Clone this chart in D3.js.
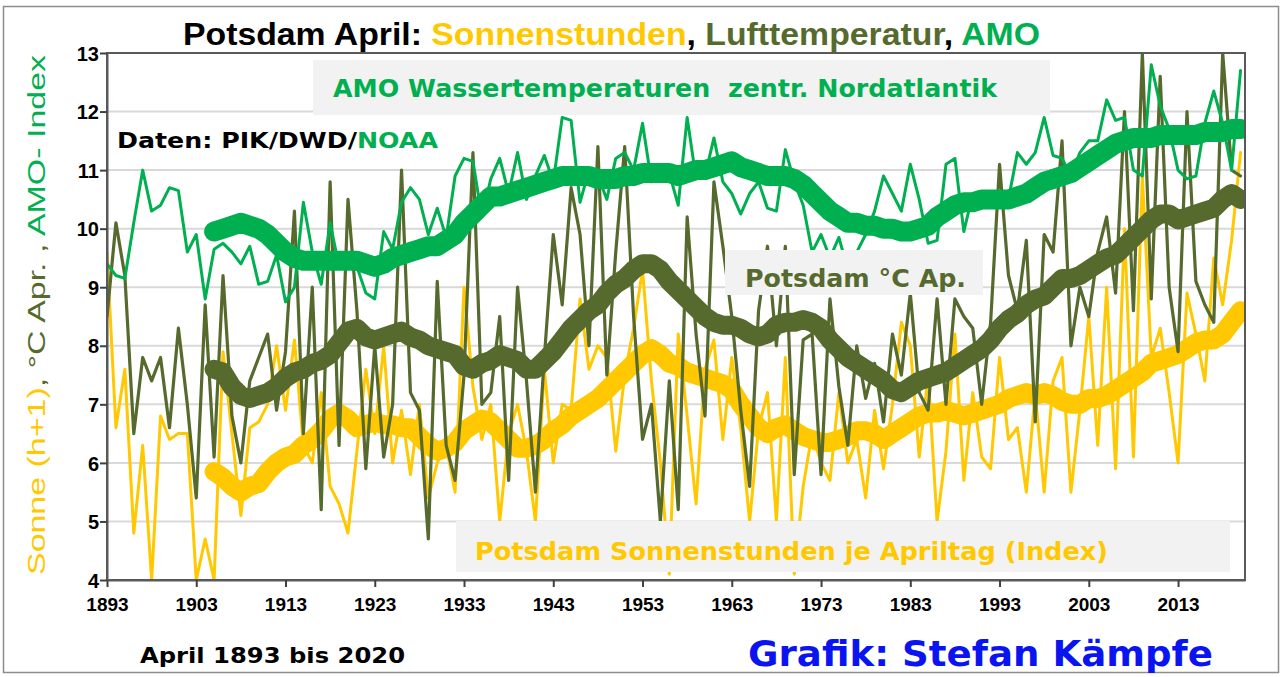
<!DOCTYPE html>
<html>
<head>
<meta charset="utf-8">
<script src="https://cdn.jsdelivr.net/npm/d3@7"></script>
<style>
  body { margin: 0; background: #fff; }
  svg { display: block; }
</style>
</head>
<body>
<div id="chart"></div>
<script>
// April values, Potsdam, 1893-2020
var years = d3.range(1893, 2021);

var sunHours = [
  9.6, 6.6, 7.6, 4.8, 6.3, 4.0, 6.8, 6.4, 6.5, 6.5,
  4.0, 4.7, 4.0, 7.9, 6.5, 5.1, 6.6, 6.7, 7.0, 8.0,
  6.9, 8.1, 6.3, 6.0, 7.2, 5.6, 5.3, 4.8, 6.2, 7.6,
  6.5, 8.0, 6.0, 6.9, 5.8, 7.0, 5.4, 6.0, 6.3, 5.5,
  9.0, 7.3, 6.4, 7.0, 5.0, 6.5, 7.0, 6.2, 5.0, 7.6,
  6.0, 7.0, 6.9, 8.8, 7.6, 8.0, 7.8, 6.2, 7.5, 8.3,
  9.3, 7.4, 6.0, 4.1, 8.2, 6.8, 5.3, 7.6, 8.1, 6.4,
  7.8, 6.6, 5.0, 6.6, 7.2, 5.0, 7.8, 4.1, 5.6, 6.5,
  6.0, 5.7, 7.2, 6.0, 6.4, 5.4, 6.9, 5.9, 7.0, 8.4,
  8.0, 6.1, 7.5, 5.0, 6.2, 8.2, 5.7, 7.2, 6.1, 5.9,
  7.8, 6.4, 6.6, 5.5, 7.2, 5.5, 7.4, 7.8, 5.5, 6.9,
  8.5, 6.3, 9.0, 5.9, 10.0, 6.1, 10.9, 7.8, 8.3, 7.2,
  6.0, 8.9, 8.2, 7.4, 9.5, 8.7, 9.8, 11.3
];

var airTemp = [
  8.5, 10.1, 9.2, 6.5, 7.8, 7.4, 7.8, 6.6, 8.3, 7.0,
  5.4, 8.7, 6.1, 9.2, 6.8, 6.0, 7.4, 7.8, 8.2, 6.9,
  7.9, 10.3, 6.5, 9.0, 5.2, 10.8, 6.3, 10.5, 8.6, 5.9,
  8.0, 6.1, 7.0, 11.0, 7.2, 6.9, 4.7, 9.1, 6.3, 5.7,
  7.5, 11.3, 7.0, 7.2, 8.5, 5.7, 9.0, 7.4, 5.5, 7.8,
  9.9, 8.7, 10.7, 9.9, 8.0, 11.4, 7.5, 9.6, 11.4, 8.5,
  6.4, 7.0, 5.0, 7.4, 5.2, 10.2, 8.2, 6.8, 10.8, 9.7,
  8.5, 6.9, 5.6, 8.6, 9.7, 8.0, 9.7, 5.8, 8.1, 8.2,
  5.8, 8.8, 7.3, 6.3, 8.0, 7.1, 7.7, 6.7, 8.2, 7.5,
  8.9, 7.2, 6.9, 8.8, 7.0, 8.8, 8.5, 8.3, 7.0, 8.4,
  11.1, 9.2, 8.6, 9.8, 6.7, 9.9, 9.6, 11.5, 8.0, 9.0,
  8.5, 9.6, 10.2, 8.9, 12.0, 8.6, 13.0, 8.8, 12.6, 9.0,
  7.9, 12.0, 9.1, 8.7, 8.4, 13.0, 11.0, 10.9
];

var amoIndex = [
  9.4, 9.2, 9.15, 10.1, 11.0, 10.3, 10.4, 10.7, 10.65, 9.6,
  9.9, 8.8, 9.65, 9.75, 9.6, 9.4, 9.7, 9.05, 9.1, 9.55,
  8.75, 9.0, 10.45, 9.6, 9.05, 10.1, 9.35, 9.45, 9.35, 8.9,
  8.8, 9.95, 9.65, 10.45, 10.7, 10.5, 9.9, 10.35, 9.85, 10.9,
  11.2, 11.15, 10.2, 10.85, 11.2, 10.6, 11.3, 10.5, 10.9, 11.25,
  10.8, 11.9, 11.85, 10.45, 11.0, 10.9, 10.5, 11.2, 11.3, 11.0,
  11.8, 10.8, 10.9, 10.95, 10.4, 11.9, 10.85, 10.9, 11.55, 10.8,
  10.6, 10.25, 10.6, 10.8, 10.35, 10.3, 11.35, 10.8, 10.4, 9.6,
  9.9, 9.5, 9.85, 9.3, 9.6, 9.9, 10.3, 10.9, 10.6, 10.3,
  11.1, 10.5, 9.75, 9.8, 11.1, 11.2, 9.95, 10.6, 10.5, 10.6,
  10.5, 10.5, 11.3, 11.1, 11.3, 11.9, 11.25, 11.2, 10.9, 11.3,
  11.5, 11.5, 12.2, 11.85, 11.9, 11.0, 10.9, 12.8, 12.1, 11.7,
  11.0, 10.85, 10.9, 11.8, 12.35, 11.8, 11.0, 12.7
];

// smoothed curves (thick lines), 1905-2020
var smoothYears = d3.range(1905, 2021);

var sunSmooth = [
  5.85, 5.75, 5.6, 5.5, 5.6, 5.65, 5.85, 6.0, 6.1,
  6.15, 6.3, 6.4, 6.55, 6.75, 6.85, 6.75, 6.6, 6.65, 6.7,
  6.65, 6.65, 6.6, 6.6, 6.45, 6.3, 6.2, 6.25, 6.35, 6.55,
  6.65, 6.75, 6.7, 6.55, 6.4, 6.25, 6.25, 6.3, 6.4, 6.55,
  6.65, 6.8, 6.9, 7.0, 7.1, 7.25, 7.4, 7.55, 7.7, 7.85,
  7.95, 7.85, 7.7, 7.65, 7.55, 7.5, 7.45, 7.4, 7.35, 7.25,
  7.0, 6.8, 6.6, 6.5, 6.6, 6.65, 6.55, 6.45, 6.4, 6.35,
  6.35, 6.4, 6.45, 6.55, 6.55, 6.5, 6.4, 6.5, 6.6, 6.7,
  6.8, 6.85, 6.85, 6.9, 6.85, 6.8, 6.85, 6.9, 6.95, 7.0,
  7.1, 7.15, 7.2, 7.15, 7.2, 7.15, 7.05, 7.0, 7.0, 7.1,
  7.1, 7.15, 7.25, 7.35, 7.45, 7.55, 7.7, 7.75, 7.8, 7.85,
  7.95, 8.05, 8.1, 8.1, 8.2, 8.4, 8.6
];

var tempSmooth = [
  7.6, 7.55, 7.3, 7.15, 7.1, 7.15, 7.2, 7.3, 7.45,
  7.55, 7.6, 7.7, 7.75, 7.85, 8.05, 8.25, 8.3, 8.15, 8.1,
  8.15, 8.2, 8.25, 8.15, 8.1, 8.0, 7.95, 7.9, 7.85, 7.65,
  7.6, 7.7, 7.75, 7.85, 7.8, 7.75, 7.6, 7.6, 7.75, 7.9,
  8.1, 8.3, 8.45, 8.6, 8.7, 8.9, 9.05, 9.15, 9.3, 9.4,
  9.4, 9.3, 9.1, 8.95, 8.8, 8.65, 8.5, 8.4, 8.35, 8.35,
  8.3, 8.2, 8.15, 8.2, 8.35, 8.4, 8.4, 8.45, 8.4, 8.3,
  8.1, 7.95, 7.8, 7.7, 7.6, 7.5, 7.4, 7.25, 7.2, 7.3,
  7.4, 7.45, 7.5, 7.55, 7.65, 7.75, 7.85, 7.95, 8.1, 8.3,
  8.45, 8.55, 8.7, 8.8, 8.85, 9.0, 9.15, 9.15, 9.2, 9.3,
  9.4, 9.5, 9.55, 9.7, 9.85, 10.0, 10.15, 10.25, 10.25, 10.15,
  10.2, 10.25, 10.3, 10.35, 10.5, 10.6, 10.5
];

var amoSmooth = [
  9.95, 10.0, 10.05, 10.1, 10.05, 10.0, 9.9, 9.75, 9.6,
  9.5, 9.45, 9.45, 9.45, 9.45, 9.45, 9.45, 9.45, 9.4, 9.35,
  9.4, 9.5, 9.55, 9.6, 9.65, 9.7, 9.7, 9.8, 9.9, 10.1,
  10.25, 10.4, 10.55, 10.55, 10.6, 10.65, 10.7, 10.75, 10.8, 10.85,
  10.9, 10.9, 10.9, 10.9, 10.85, 10.85, 10.85, 10.9, 10.9, 10.95,
  10.95, 10.95, 10.95, 10.9, 10.95, 11.0, 11.0, 11.05, 11.1, 11.15,
  11.05, 11.0, 10.95, 10.9, 10.9, 10.9, 10.85, 10.75, 10.6, 10.45,
  10.3, 10.2, 10.1, 10.1, 10.05, 10.05, 10.0, 10.0, 9.95, 9.95,
  10.0, 10.05, 10.2, 10.3, 10.4, 10.45, 10.45, 10.5, 10.5, 10.5,
  10.5, 10.55, 10.6, 10.7, 10.8, 10.85, 10.9, 10.95, 11.05, 11.15,
  11.25, 11.35, 11.45, 11.5, 11.55, 11.55, 11.55, 11.6, 11.6, 11.6,
  11.6, 11.6, 11.65, 11.65, 11.65, 11.7, 11.7
];

var xTicks = d3.range(1893, 2020, 10);
var yTicks = d3.range(4, 14);

var YELLOW = "#ffc800",
    OLIVE = "#566a2e",
    GREEN = "#00b050",
    BLUE = "#0a14f0";

var width = 1283,
    height = 677,
    plotLeft = 107, plotRight = 1245, plotTop = 53, plotBottom = 580;

var svg = d3.select("#chart").append("svg")
    .attr("width", width)
    .attr("height", height);

// outer chart frame
svg.append("rect")
    .attr("x", 3.5).attr("y", 6.5)
    .attr("width", 1275).attr("height", 666)
    .attr("fill", "#fff")
    .attr("stroke", "#8c8c8c")
    .attr("stroke-width", 1.5);

var x = d3.scaleLinear().domain([1893, 2020.5]).range([plotLeft, plotRight]);
var y = d3.scaleLinear().domain([4, 13]).range([plotBottom, plotTop]);

// gridlines
svg.append("g")
  .selectAll("line")
  .data(yTicks.slice(1, -1))
  .enter().append("line")
    .attr("x1", plotLeft).attr("x2", plotRight)
    .attr("y1", d => y(d)).attr("y2", d => y(d))
    .attr("stroke", "#d9d9d9")
    .attr("stroke-width", 2);

svg.append("clipPath").attr("id", "plot")
  .append("rect")
    .attr("x", plotLeft).attr("y", plotTop)
    .attr("width", plotRight - plotLeft).attr("height", plotBottom - plotTop);

var plot = svg.append("g").attr("clip-path", "url(#plot)");

function drawLine(xs, vals, color, w) {
  var line = d3.line()
      .x((d, i) => x(xs[i]))
      .y(d => y(d));
  plot.append("path")
      .datum(vals)
      .attr("fill", "none")
      .attr("stroke", color)
      .attr("stroke-width", w)
      .attr("stroke-linejoin", "round")
      .attr("stroke-linecap", "round")
      .attr("d", line);
}

drawLine(years, sunHours, YELLOW, 3);
drawLine(smoothYears, sunSmooth, YELLOW, 19);
drawLine(years, airTemp, OLIVE, 3.2);
drawLine(smoothYears, tempSmooth, OLIVE, 19);
drawLine(years, amoIndex, GREEN, 3);
drawLine(smoothYears, amoSmooth, GREEN, 20);

// plot frame
svg.append("rect")
    .attr("x", plotLeft).attr("y", plotTop)
    .attr("width", plotRight - plotLeft).attr("height", plotBottom - plotTop)
    .attr("fill", "none")
    .attr("stroke", "#595959")
    .attr("stroke-width", 2);

// axes
var xAxis = svg.append("g")
    .attr("transform", "translate(0," + plotBottom + ")")
    .call(d3.axisBottom(x).tickValues(xTicks).tickFormat(d3.format("d")).tickSize(7).tickSizeOuter(0));
var yAxis = svg.append("g")
    .attr("transform", "translate(" + plotLeft + ",0)")
    .call(d3.axisLeft(y).tickValues(yTicks).tickSize(7).tickSizeOuter(0));

[xAxis, yAxis].forEach(function(ax) {
  ax.select(".domain").attr("stroke", "#595959").attr("stroke-width", 2);
  ax.selectAll(".tick line").attr("stroke", "#404040").attr("stroke-width", 2);
  ax.selectAll("text")
      .attr("fill", "#000")
      .style("font-family", "'Liberation Sans', Arial, sans-serif")
      .style("font-weight", "bold");
});
xAxis.selectAll("text").style("font-size", "19px").attr("dy", "1.1em");
yAxis.selectAll("text").style("font-size", "20px").attr("x", -8).attr("dy", "0.36em");

var WIDE = "'DejaVu Sans', Verdana, sans-serif";

// label boxes drawn over the lines
function box(x0, y0, x1, y1) {
  svg.append("rect")
      .attr("x", x0).attr("y", y0)
      .attr("width", x1 - x0).attr("height", y1 - y0)
      .attr("fill", "#f2f2f2");
}
function label(parts, px, py, size, len, font) {
  var t = svg.append("text")
      .attr("x", px).attr("y", py)
      .style("font-family", font || WIDE)
      .style("font-weight", "bold")
      .style("font-size", size + "px")
      .attr("xml:space", "preserve");
  parts.forEach(function(p) {
    t.append("tspan").attr("fill", p[1]).text(p[0]);
  });
  if (len) t.attr("textLength", len).attr("lengthAdjust", "spacingAndGlyphs");
  return t;
}

box(313, 60, 1050, 115);
label([["AMO Wassertemperaturen  zentr. Nordatlantik", GREEN]], 333, 97, 24, 664);

box(725, 250, 983, 295);
label([["Potsdam °C Ap.", OLIVE]], 745, 287, 24, 221);

box(456, 521, 1230, 572);
label([["Potsdam Sonnenstunden je Apriltag (Index)", YELLOW]], 475, 560, 24, 633);

label([["Daten: PIK/DWD/", "#000"], ["NOAA", GREEN]], 117, 148, 22, 321);

// title
label([["Potsdam April: ", "#000"], ["Sonnenstunden", YELLOW], [", ", "#000"],
       ["Lufttemperatur", OLIVE], [", ", "#000"], ["AMO", GREEN]],
      183, 45, 31, 857, "'Liberation Sans', Arial, sans-serif");

// y axis title
label([["Sonne (h+1)", YELLOW], [", °C Apr. , ", OLIVE], ["AMO- Index", GREEN]],
      0, 0, 23, 520, "'Liberation Sans', Arial, sans-serif")
    .style("font-weight", "normal")
    .attr("transform", "translate(45,575) rotate(-90)");

label([["April 1893 bis 2020", "#000"]], 140, 663, 22, 265);
label([["Grafik: Stefan Kämpfe", BLUE]], 748, 666, 35, 465);
</script>
</body>
</html>
